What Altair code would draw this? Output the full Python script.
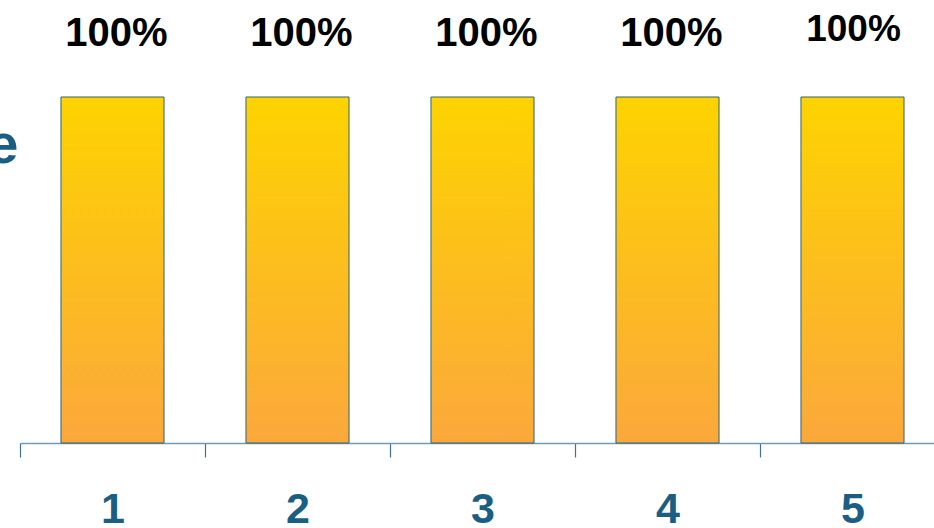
import altair as alt
import pandas as pd

# Categories and their values (share of 100%)
categories = [1, 2, 3, 4, 5]
values = [1.0, 1.0, 1.0, 1.0, 1.0]
value_labels = ["100%", "100%", "100%", "100%", "100%"]

df = pd.DataFrame({"cat": categories, "val": values, "label": value_labels})

TEAL = "#1B5E84"
FONT = "Liberation Sans"

x_enc = alt.X(
    "cat:O",
    scale=alt.Scale(range=[0, 925], paddingInner=0, paddingOuter=0),
    axis=alt.Axis(
        title=None,
        labelAngle=0,
        labelFont=FONT,
        labelFontSize=43,
        labelFontWeight="bold",
        labelColor=TEAL,
        labelPadding=31,
        labelBaseline="top",
        tickBand="extent",
        tickSize=14,
        tickColor="#3C7296",
        tickWidth=1.2,
        domainColor="#6F9BB8",
        domainWidth=1.5,
        grid=False,
    ),
)

y_enc = alt.Y(
    "val:Q",
    scale=alt.Scale(domain=[0, 1], nice=False, zero=True),
    axis=alt.Axis(
        title="Percentage",
        titleAngle=0,
        titleAlign="right",
        titleBaseline="middle",
        titleX=-2,
        titleY=48,
        titleFont=FONT,
        titleFontSize=56,
        titleFontWeight="bold",
        titleColor=TEAL,
        labels=False,
        ticks=False,
        domain=False,
        grid=False,
    ),
)

gradient = alt.Gradient(
    gradient="linear",
    stops=[
        alt.GradientStop(color="#FDD300", offset=0),
        alt.GradientStop(color="#FBA83C", offset=1),
    ],
    x1=0, x2=0, y1=0, y2=1,
)

bars = alt.Chart(df).mark_bar(
    color=gradient, stroke="#2B6478", strokeWidth=1,
    width=alt.RelativeBandSize(0.557),
).encode(x=x_enc, y=y_enc)

label_base = alt.Chart(df).encode(
    x=alt.X("cat:O"), y=alt.Y("val:Q"), text="label:N"
)

labels_main = label_base.transform_filter(alt.datum.cat < 5).mark_text(
    font=FONT, fontSize=40, fontWeight="bold", color="black",
    baseline="alphabetic", dy=-51, dx=4,
)
labels_last = label_base.transform_filter(alt.datum.cat == 5).mark_text(
    font=FONT, fontSize=37, fontWeight="bold", color="black",
    baseline="alphabetic", dy=-56, dx=1,
)

chart = (
    alt.layer(bars, labels_main, labels_last)
    .properties(
        width=914,
        height=346,
        background="white",
        autosize=alt.AutoSizeParams(type="none"),
        padding={"left": 20, "top": 97, "right": 0, "bottom": 85},
    )
    .configure_view(stroke="transparent", strokeWidth=0)
)

chart.save("out.html", embed_options={"renderer": "svg", "actions": False})
